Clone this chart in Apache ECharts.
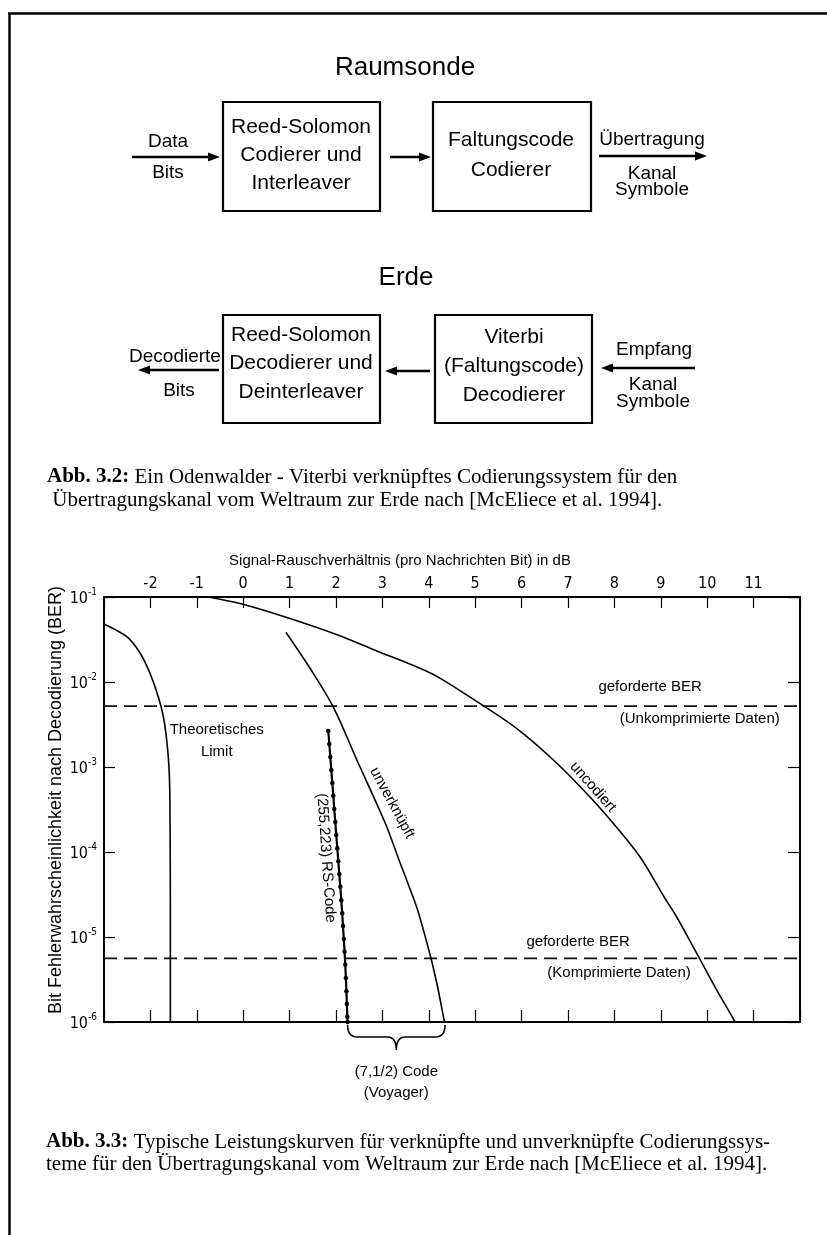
<!DOCTYPE html>
<html><head><meta charset="utf-8">
<script src="https://cdn.jsdelivr.net/npm/echarts@6/dist/echarts.min.js"></script>
<style>html,body{margin:0;padding:0;background:#fff}#c{width:827px;height:1235px}</style>
</head><body><div id="c"></div>
<script>
// ---------------- data ----------------
const xTickLabels = [-2,-1,0,1,2,3,4,5,6,7,8,9,10,11];
const yDecades = [-6,-5,-4,-3,-2,-1];
// Theoretisches Limit (dB, BER)
const theoLimit = [[-3.0,0.048],[-2.51,0.0341],[-2.22,0.0218],[-2.01,0.0127],[-1.83,0.0067],[-1.72,0.0039],[-1.65,0.0021],[-1.60,0.00101],[-1.58,0.00041],[-1.57,2.7e-5],[-1.57,1e-6]];
// uncodiert
const uncoded = [[-0.75,0.1],[-0.03,0.0827],[0.94,0.0574],[2.01,0.0362],[2.88,0.0232],[3.81,0.0145],[4.24,0.0111],[5.14,0.0054],[5.89,0.00285],[6.61,0.00132],[7.26,5.9e-4],[7.91,2.4e-4],[8.55,8.8e-5],[9.09,2.85e-5],[9.34,1.73e-5],[9.81,5.9e-6],[10.2,2.4e-6],[10.56,1.1e-6],[10.6,1e-6]];
// unverknüpft (7,1/2) Faltungscode
const unconcatenated = [[0.92,0.0385],[1.44,0.0145],[1.94,0.0051],[2.45,0.00121],[3.06,2.19e-4],[3.36,8.0e-5],[3.66,2.96e-5],[3.78,1.91e-5],[4.04,5.82e-6],[4.19,2.58e-6],[4.33,1.06e-6],[4.35,1e-6]];
// (255,223) RS-Code verknüpft
const rsConcat = [[1.834,2.65e-3],[1.856,1.87e-3],[1.877,1.31e-3],[1.899,9.2e-4],[1.920,6.5e-4],[1.942,4.6e-4],[1.963,3.2e-4],[1.985,2.25e-4],[2.006,1.58e-4],[2.028,1.11e-4],[2.050,7.8e-5],[2.071,5.5e-5],[2.093,3.9e-5],[2.114,2.7e-5],[2.134,1.9e-5],[2.151,1.35e-5],[2.168,9.5e-6],[2.185,6.7e-6],[2.200,4.7e-6],[2.213,3.3e-6],[2.224,2.3e-6],[2.235,1.63e-6],[2.244,1.15e-6],[2.25,1e-6]];
// geforderte BER
const requiredBER = [5.2e-3, 5.6e-6];
const xRange = [-3, 12];
const yRange = [1e-6, 1e-1];

// ---------------- styles ----------------
const SANS = '"Liberation Sans", Arial, sans-serif';
const NARROW = '"Liberation Sans Narrow", "Arial Narrow", "DejaVu Sans Condensed", sans-serif';
const SERIF = '"Liberation Serif", "Times New Roman", serif';

const chart = echarts.init(document.getElementById('c'), null, {renderer: 'canvas'});

const axLine = {show: true, onZero: false, lineStyle: {color: '#000', width: 2}};
const tick = (len) => ({show: true, inside: true, length: len, lineStyle: {color: '#000', width: 1.2}});

const lineSeries = (name, data, extra) => Object.assign({
  name, type: 'line', data, showSymbol: false, symbol: 'none', smooth: 0.3,
  lineStyle: {color: '#000', width: 1.6}, silent: true, z: 3
}, extra || {});

const series = [
  lineSeries('Theoretisches Limit', theoLimit, {smooth: 0.25}),
  lineSeries('uncodiert', uncoded),
  lineSeries('unverknüpft', unconcatenated),
  {
    name: '(255,223) RS-Code', type: 'line', data: rsConcat, symbol: 'circle', symbolSize: 4.5, showSymbol: true,
    lineStyle: {color: '#000', width: 2.2}, itemStyle: {color: '#000', borderWidth: 0}, silent: true, z: 4
  }
];
requiredBER.forEach((v, i) => {
  series.push({
    name: 'geforderte BER ' + i, type: 'line', symbol: 'none', silent: true, z: 2,
    data: [[xRange[0], v], [xRange[1], v]],
    lineStyle: {color: '#111', width: 1.6, type: [13, 7]}
  });
});

const option = {
  animation: false,
  backgroundColor: '#fff',
  grid: {left: 104, top: 597, width: 696, height: 425},
  xAxis: [
    {type: 'value', position: 'top', min: xRange[0], max: xRange[1], interval: 1,
     axisLine: axLine, axisTick: tick(11), splitLine: {show: false},
     axisLabel: {color: '#000', fontSize: 16, fontFamily: NARROW, margin: 5,
       formatter: v => xTickLabels.includes(v) ? String(v) : ''}},
    {type: 'value', position: 'bottom', min: xRange[0], max: xRange[1], interval: 1,
     axisLine: axLine, axisTick: tick(12), splitLine: {show: false}, axisLabel: {show: false}}
  ],
  yAxis: [
    {type: 'log', logBase: 10, min: yRange[0], max: yRange[1], position: 'left',
     axisLine: axLine, axisTick: tick(11), splitLine: {show: false},
     axisLabel: {margin: 7, formatter: v => {
        const e = Math.round(Math.log10(v));
        return yDecades.includes(e) ? '{b|10}{s|' + e + '}' : '';
      },
      rich: {
        b: {fontSize: 16, fontFamily: NARROW, color: '#000', lineHeight: 20, verticalAlign: 'bottom'},
        s: {fontSize: 10, fontFamily: NARROW, color: '#000', verticalAlign: 'top', lineHeight: 20}
      }}},
    {type: 'log', logBase: 10, min: yRange[0], max: yRange[1], position: 'right',
     axisLine: axLine, axisTick: tick(12), splitLine: {show: false}, axisLabel: {show: false}}
  ],
  series: series
};
chart.setOption(option);

// ---------------- annotations / diagram ----------------
const P = (x, y) => chart.convertToPixel({gridIndex: 0}, [x, y]);
const G = [];
function txt(x, y, s, size, fam, opts) {
  opts = opts || {};
  G.push({type: 'text', x, y, rotation: (opts.rot || 0) * Math.PI / 180, silent: true, z: 10,
    style: {text: s, fill: '#000', fontSize: size, fontFamily: fam, fontWeight: opts.weight || 'normal',
      align: opts.align || 'center', verticalAlign: 'middle', rich: opts.rich}});
}
function ln(x1, y1, x2, y2, w) {
  G.push({type: 'line', silent: true, z: 10, shape: {x1, y1, x2, y2}, style: {stroke: '#000', lineWidth: w || 2}});
}
function rect(x, y, w, h) {
  G.push({type: 'rect', silent: true, z: 10, shape: {x, y, width: w, height: h}, style: {fill: 'none', stroke: '#000', lineWidth: 2.2}});
}
function arrow(x1, y, x2) {
  const dir = x2 > x1 ? 1 : -1;
  const hl = 12, hw = 4.5;
  ln(x1, y, x2 - dir * hl * 0.6, y, 2.6);
  G.push({type: 'polygon', silent: true, z: 10, shape: {points: [[x2, y], [x2 - dir * hl, y - hw], [x2 - dir * hl, y + hw]]}, style: {fill: '#000'}});
}
function quad(pts, a, c, b) { // sample a quadratic bezier into pts
  for (let i = 1; i <= 8; i++) {
    const t = i / 8, u = 1 - t;
    pts.push([u*u*a[0] + 2*u*t*c[0] + t*t*b[0], u*u*a[1] + 2*u*t*c[1] + t*t*b[1]]);
  }
}

// page border
ln(9.5, 13, 9.5, 1235, 2.5);
ln(8, 13.5, 827, 13.5, 2.5);

// --- Raumsonde
txt(405, 68, 'Raumsonde', 26, SANS);
rect(223, 102, 157, 109);
rect(433, 102, 158, 109);
txt(301, 127, 'Reed-Solomon', 21, SANS);
txt(301, 155, 'Codierer und', 21, SANS);
txt(301, 183, 'Interleaver', 21, SANS);
txt(511, 140, 'Faltungscode', 21, SANS);
txt(511, 170, 'Codierer', 21, SANS);
txt(168, 142, 'Data', 19, SANS);
txt(168, 173, 'Bits', 19, SANS);
arrow(132, 157, 220);
arrow(390, 157, 431);
txt(652, 140, 'Übertragung', 19, SANS);
arrow(599, 156, 707);
txt(652, 174, 'Kanal', 19, SANS);
txt(652, 190, 'Symbole', 19, SANS);

// --- Erde
txt(406, 278, 'Erde', 26, SANS);
rect(223, 315, 157, 108);
rect(435, 315, 157, 108);
txt(301, 335, 'Reed-Solomon', 21, SANS);
txt(301, 363, 'Decodierer und', 21, SANS);
txt(301, 392, 'Deinterleaver', 21, SANS);
txt(514, 337, 'Viterbi', 21, SANS);
txt(514, 366, '(Faltungscode)', 21, SANS);
txt(514, 395, 'Decodierer', 21, SANS);
txt(175, 357, 'Decodierte', 19, SANS);
arrow(219, 370, 138);
txt(179, 391, 'Bits', 19, SANS);
arrow(430, 371, 385);
txt(654, 350, 'Empfang', 19, SANS);
arrow(695, 368, 601);
txt(653, 385, 'Kanal', 19, SANS);
txt(653, 402, 'Symbole', 19, SANS);

// captions
const capRich = {b: {fontWeight: 'bold', fontSize: 21, fontFamily: SERIF, fill: '#000'}};
txt(47, 477, '{b|Abb. 3.2:} Ein Odenwalder - Viterbi verknüpftes Codierungssystem für den', 21, SERIF, {align: 'left', rich: capRich});
txt(47, 500, ' Übertragungskanal vom Weltraum zur Erde nach [McEliece et al. 1994].', 21, SERIF, {align: 'left'});
txt(46, 1142, '{b|Abb. 3.3:} Typische Leistungskurven für verknüpfte und unverknüpfte Codierungssys-', 21, SERIF, {align: 'left', rich: capRich});
txt(46, 1164, 'teme für den Übertragungskanal vom Weltraum zur Erde nach [McEliece et al. 1994].', 21, SERIF, {align: 'left'});

// axis titles
txt(400, 561, 'Signal-Rauschverhältnis (pro Nachrichten Bit) in dB', 15, SANS);
txt(56, 800, 'Bit Fehlerwahrscheinlichkeit nach Decodierung (BER)', 18, SANS, {rot: 90});

// chart annotations (data coordinates)
const ann = [
  [-0.57, 2.7e-3, 'Theoretisches', 0],
  [-0.57, 1.5e-3, 'Limit', 0],
  [8.77, 8.8e-3, 'geforderte BER', 0],
  [9.84, 3.67e-3, '(Unkomprimierte Daten)', 0],
  [7.22, 8.8e-6, 'geforderte BER', 0],
  [8.10, 3.74e-6, '(Komprimierte Daten)', 0],
  [3.207, 3.77e-4, 'unverknüpft', -61.5],
  [7.539, 5.8e-4, 'uncodiert', -48.5],
  [1.784, 8.5e-5, '(255,223) RS-Code', -86]
];
ann.forEach(a => { const p = P(a[0], a[1]); txt(p[0], p[1], a[2], 15, SANS, {rot: a[3]}); });

// brace under the axis between RS-Code and unverknüpft endpoints
const bl = P(rsConcat[rsConcat.length - 1][0], yRange[0]);
const br = P(unconcatenated[unconcatenated.length - 1][0], yRange[0]);
const y0 = bl[1] + 3, y1 = bl[1] + 15, xm = (bl[0] + br[0]) / 2, yt = bl[1] + 28;
const bp = [[bl[0], y0]];
quad(bp, [bl[0], y0], [bl[0], y1], [bl[0] + 10, y1]);
bp.push([xm - 9, y1]);
quad(bp, [xm - 9, y1], [xm, y1], [xm, yt]);
quad(bp, [xm, yt], [xm, y1], [xm + 9, y1]);
bp.push([br[0] - 10, y1]);
quad(bp, [br[0] - 10, y1], [br[0], y1], [br[0], y0]);
G.push({type: 'polyline', silent: true, z: 10, shape: {points: bp}, style: {fill: 'none', stroke: '#000', lineWidth: 1.6}});
txt(xm, bl[1] + 50, '(7,1/2) Code', 15, SANS);
txt(xm, bl[1] + 71, '(Voyager)', 15, SANS);

chart.setOption({graphic: G});
</script></body></html>
